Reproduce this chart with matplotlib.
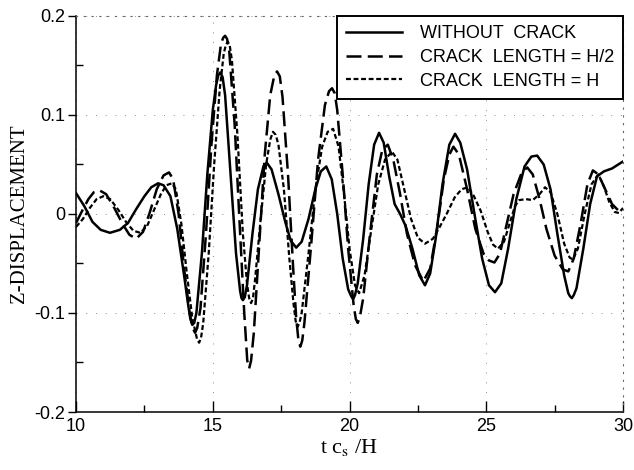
import matplotlib
matplotlib.use("Agg")
import matplotlib.pyplot as plt
from matplotlib.ticker import MultipleLocator

plt.rcParams["font.family"] = "Liberation Sans"
plt.rcParams["mathtext.fontset"] = "stix"

# --- data ---
solid_x = [10.0, 10.3, 10.6, 10.9, 11.24, 11.6, 11.9, 12.2, 12.5, 12.75, 13.0, 13.2, 13.45,
           13.7, 13.95, 14.1, 14.18, 14.25, 14.32, 14.4, 14.6, 14.8, 15.0, 15.12, 15.2, 15.28,
           15.36, 15.45, 15.65, 15.85, 16.0, 16.05, 16.1, 16.17, 16.25, 16.45, 16.65, 16.85,
           16.97, 17.15, 17.4, 17.65, 17.85, 18.05, 18.25, 18.5, 18.75, 18.95, 19.15, 19.35,
           19.55, 19.75, 19.95, 20.06, 20.13, 20.2, 20.3, 20.5, 20.7, 20.9, 21.08, 21.25,
           21.45, 21.65, 21.85, 22.05, 22.3, 22.55, 22.76, 22.95, 23.15, 23.4, 23.65, 23.86,
           24.05, 24.3, 24.6, 24.85, 25.1, 25.32, 25.55, 25.8, 26.1, 26.4, 26.65, 26.86, 27.1,
           27.35, 27.6, 27.85, 28.0, 28.06, 28.13, 28.2, 28.3, 28.55, 28.8, 29.05, 29.3, 29.6,
           30.0]
solid_y = [0.021, 0.008, -0.008, -0.016, -0.019, -0.016, -0.009, 0.005, 0.018, 0.027, 0.031,
           0.029, 0.018, -0.015, -0.062, -0.092, -0.106, -0.112, -0.11, -0.1, -0.04, 0.04,
           0.105, 0.13, 0.14, 0.143, 0.138, 0.12, 0.04, -0.04, -0.078, -0.085, -0.087, -0.084,
           -0.072, -0.02, 0.025, 0.048, 0.052, 0.045, 0.02, -0.008, -0.027, -0.034, -0.028,
           -0.005, 0.025, 0.043, 0.048, 0.035, 0.0, -0.045, -0.076, -0.083, -0.086, -0.082,
           -0.07, -0.025, 0.03, 0.07, 0.082, 0.072, 0.038, 0.01, 0.0, -0.012, -0.035, -0.062,
           -0.072, -0.06, -0.025, 0.03, 0.07, 0.081, 0.072, 0.045, -0.005, -0.045, -0.072,
           -0.079, -0.07, -0.035, 0.015, 0.048, 0.058, 0.059, 0.05, 0.025, -0.02, -0.062,
           -0.08, -0.083, -0.085, -0.082, -0.075, -0.035, 0.01, 0.038, 0.043, 0.046, 0.053]

half_x = [10.0, 10.2, 10.45, 10.65, 10.85, 11.1, 11.4, 11.7, 11.95, 12.2, 12.45, 12.7, 12.95,
          13.2, 13.4, 13.55, 13.75, 13.95, 14.15, 14.28, 14.35, 14.43, 14.55, 14.75, 14.95,
          15.15, 15.3, 15.38, 15.45, 15.52, 15.6, 15.8, 16.0, 16.15, 16.26, 16.33, 16.4, 16.5,
          16.7, 16.9, 17.1, 17.25, 17.35, 17.45, 17.55, 17.75, 17.95, 18.05, 18.13, 18.2,
          18.27, 18.35, 18.6, 18.85, 19.1, 19.25, 19.36, 19.46, 19.55, 19.75, 19.95, 20.15,
          20.23, 20.3, 20.38, 20.5, 20.75, 21.0, 21.2, 21.4, 21.6, 21.85, 22.1, 22.4, 22.7,
          22.95, 23.2, 23.45, 23.65, 23.8, 24.0, 24.3, 24.6, 24.9, 25.1, 25.3, 25.5, 25.75,
          26.0, 26.3, 26.5, 26.7, 26.95, 27.2, 27.5, 27.8, 28.0, 28.2, 28.45, 28.7, 28.9,
          29.1, 29.35, 29.6, 29.85, 30.0]
half_y = [-0.009, 0.002, 0.015, 0.022, 0.024, 0.02, 0.006, -0.01, -0.021, -0.025, -0.018,
          0.002, 0.025, 0.039, 0.042, 0.035, 0.0, -0.055, -0.1, -0.116, -0.12, -0.115, -0.095,
          -0.02, 0.07, 0.14, 0.172, 0.178, 0.18, 0.177, 0.165, 0.09, -0.02, -0.1, -0.148,
          -0.156, -0.148, -0.12, -0.03, 0.06, 0.12, 0.14, 0.144, 0.139, 0.118, 0.04, -0.06,
          -0.105, -0.127, -0.134, -0.128, -0.11, -0.03, 0.055, 0.11, 0.124, 0.127, 0.122,
          0.105, 0.04, -0.035, -0.092, -0.106, -0.11, -0.104, -0.085, -0.02, 0.04, 0.065,
          0.07, 0.055, 0.02, -0.02, -0.052, -0.068, -0.055, -0.015, 0.035, 0.06, 0.068, 0.06,
          0.025, -0.015, -0.04, -0.047, -0.049, -0.04, -0.01, 0.02, 0.042, 0.047, 0.04, 0.015,
          -0.015, -0.042, -0.056, -0.058, -0.045, -0.01, 0.03, 0.044, 0.04, 0.025, 0.01,
          0.003, 0.006]

full_x = [10.0, 10.25, 10.5, 10.75, 11.0, 11.25, 11.55, 11.85, 12.1, 12.35, 12.6, 12.85, 13.1,
          13.3, 13.5, 13.65, 13.85, 14.05, 14.25, 14.42, 14.5, 14.57, 14.65, 14.85, 15.05,
          15.25, 15.4, 15.48, 15.55, 15.62, 15.7, 15.9, 16.1, 16.25, 16.33, 16.4, 16.47,
          16.55, 16.75, 16.95, 17.1, 17.2, 17.3, 17.4, 17.6, 17.8, 17.95, 18.03, 18.1, 18.17,
          18.25, 18.5, 18.75, 19.0, 19.2, 19.4, 19.6, 19.8, 20.0, 20.2, 20.35, 20.55, 20.8,
          21.05, 21.3, 21.55, 21.75, 22.0, 22.25, 22.5, 22.76, 23.05, 23.3, 23.55, 23.85,
          24.1, 24.33, 24.55, 24.8, 25.05, 25.25, 25.43, 25.65, 25.85, 26.05, 26.2, 26.45,
          26.7, 26.95, 27.15, 27.35, 27.6, 27.85, 28.05, 28.17, 28.35, 28.6, 28.85, 29.1,
          29.3, 29.5, 29.7, 29.85, 30.0]
full_y = [-0.013, -0.005, 0.006, 0.015, 0.018, 0.015, 0.004, -0.009, -0.017, -0.019, -0.012,
          0.004, 0.02, 0.029, 0.031, 0.025, -0.01, -0.06, -0.105, -0.126, -0.13, -0.125,
          -0.11, -0.04, 0.05, 0.125, 0.162, 0.171, 0.174, 0.17, 0.155, 0.08, -0.02, -0.07,
          -0.085, -0.09, -0.085, -0.065, -0.005, 0.05, 0.075, 0.083, 0.08, 0.07, 0.025,
          -0.045, -0.09, -0.108, -0.114, -0.11, -0.1, -0.04, 0.025, 0.068, 0.083, 0.086,
          0.068, 0.02, -0.035, -0.072, -0.08, -0.062, -0.015, 0.03, 0.055, 0.063, 0.055,
          0.025, -0.005, -0.024, -0.03, -0.025, -0.013, 0.0, 0.017, 0.025, 0.027, 0.018,
          0.003, -0.018, -0.031, -0.035, -0.028, -0.01, 0.008, 0.014, 0.015, 0.014, 0.02,
          0.027, 0.022, 0.0, -0.03, -0.044, -0.046, -0.035, 0.0, 0.03, 0.04, 0.028, 0.012,
          0.002, 0.001, 0.006]

labels = ["WITHOUT  CRACK", "CRACK  LENGTH = H/2", "CRACK  LENGTH = H"]

fig = plt.figure(figsize=(6.34, 4.70), dpi=100)
ax = fig.add_axes([0.12, 0.1234, 0.8626, 0.8426])

ax.plot(solid_x, solid_y, color="black", linewidth=1.8, linestyle="-", label=labels[0])
ax.plot(half_x, half_y, color="black", linewidth=1.8, linestyle=(0, (6, 2.5)), label=labels[1])
ax.plot(full_x, full_y, color="black", linewidth=1.6, linestyle=(0, (2.2, 1.2)), label=labels[2])

ax.set_xlim(10, 30)
ax.set_ylim(-0.2, 0.2)
ax.xaxis.set_major_locator(MultipleLocator(5))
ax.xaxis.set_minor_locator(MultipleLocator(2.5))
ax.yaxis.set_major_locator(MultipleLocator(0.1))
ax.yaxis.set_minor_locator(MultipleLocator(0.05))
ax.yaxis.set_major_formatter(plt.FuncFormatter(lambda v, p: "0" if abs(v) < 1e-9 else f"{v:.1f}"))

ax.tick_params(axis="x", which="major", direction="in", length=8, width=1, labelsize=13, pad=4)
ax.tick_params(axis="x", which="minor", direction="in", length=5, width=1)
ax.tick_params(axis="y", which="major", direction="out", length=6, width=1, labelsize=13, pad=2)
ax.tick_params(axis="y", which="minor", direction="in", length=5, width=1)

ax.grid(True, which="major", color="0.55", linestyle=(0, (1, 9)), linewidth=0.7)

for side in ["left", "bottom"]:
    ax.spines[side].set_linewidth(1.1)
for side in ["top", "right"]:
    ax.spines[side].set_linestyle((0, (1, 6)))
    ax.spines[side].set_linewidth(0.8)
    ax.spines[side].set_color("0.4")

ax.set_ylabel("Z-DISPLACEMENT", family="Liberation Serif", fontsize=15, labelpad=4)
ax.set_xlabel(r"t c$_\mathrm{s}$ /H", family="Liberation Serif", fontsize=16, labelpad=2)

leg = ax.legend(loc="upper right", bbox_to_anchor=(1.0, 1.0), borderaxespad=0,
                fontsize=13, handlelength=3.1, handletextpad=1.0, labelspacing=0.38,
                borderpad=0.5, fancybox=False, framealpha=1)
leg.get_frame().set_edgecolor("black")
leg.get_frame().set_linewidth(1.4)

fig.savefig("out.png", dpi=100)
